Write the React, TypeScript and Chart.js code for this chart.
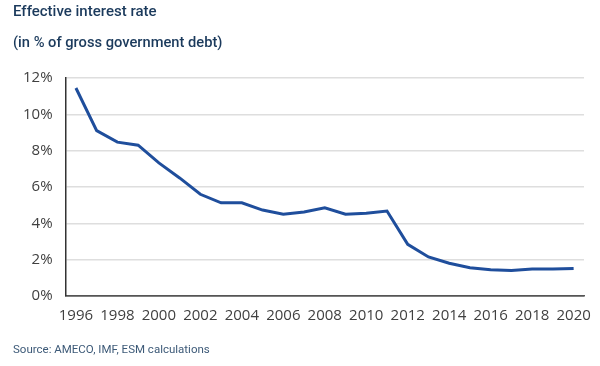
import React, { useEffect, useRef } from "react";
import { Chart, registerables } from "chart.js";

Chart.register(...registerables);

const years = [
  "1996", "1997", "1998", "1999", "2000", "2001", "2002", "2003", "2004", "2005",
  "2006", "2007", "2008", "2009", "2010", "2011", "2012", "2013", "2014", "2015",
  "2016", "2017", "2018", "2019", "2020",
];
const effectiveRate = [
  11.45, 9.1, 8.47, 8.3, 7.33, 6.5, 5.6, 5.13, 5.13, 4.73,
  4.5, 4.62, 4.86, 4.5, 4.55, 4.68, 2.84, 2.15, 1.8, 1.56,
  1.45, 1.4, 1.48, 1.48, 1.52,
];
const yTicks = [0, 2, 4, 6, 8, 10, 12];

export default function App() {
  const ref = useRef<HTMLCanvasElement | null>(null);

  useEffect(() => {
    document.body.style.margin = "0";
    if (!ref.current) return;
    const chart = new Chart(ref.current, {
      type: "line",
      data: {
        labels: years,
        datasets: [
          {
            data: effectiveRate,
            borderColor: "#1f4e9c",
            borderWidth: 3,
            pointRadius: 0,
            tension: 0,
            fill: false,
          },
        ],
      },
      options: {
        animation: false,
        responsive: false,
        maintainAspectRatio: false,
        layout: { padding: { top: 78, bottom: 38, left: 10, right: 16 } },
        plugins: { legend: { display: false }, tooltip: { enabled: false } },
        scales: {
          x: {
            offset: true,
            grid: { display: false },
            border: { display: true, color: "#555555", width: 1.5 },
            ticks: {
              autoSkip: false,
              maxRotation: 0,
              padding: 3,
              color: "#404040",
              font: { family: "Open Sans", size: 15 },
              callback: (_v: any, i: number) => (i % 2 === 0 ? years[i] : ""),
            },
          },
          y: {
            min: 0,
            max: 12,
            afterBuildTicks: (axis: any) => {
              axis.ticks = yTicks.map((v) => ({ value: v }));
            },
            grid: {
              color: (ctx: any) => (ctx.tick && ctx.tick.value === 0 ? "#555555" : "#dedede"),
              lineWidth: 1.5,
              drawTicks: false,
            },
            border: { display: true, color: "#333333", width: 1.5 },
            ticks: {
              padding: 13,
              color: "#404040",
              font: { family: "Open Sans", size: 15 },
              callback: (v: any) => v + "%",
            },
          },
        },
      },
    });
    return () => chart.destroy();
  }, []);

  return (
    <div style={{ position: "relative", width: 600, height: 366, background: "#ffffff" }}>
      <canvas ref={ref} width={600} height={366} style={{ position: "absolute", left: 0, top: 0 }} />
      <div
        style={{
          position: "absolute",
          left: 13,
          top: 2,
          fontFamily: "Roboto",
          fontWeight: 500,
          fontSize: 15,
          color: "#1b3a5c",
        }}
      >
        Effective interest rate
      </div>
      <div
        style={{
          position: "absolute",
          left: 13,
          top: 33,
          fontFamily: "Roboto",
          fontWeight: 500,
          fontSize: 14.7,
          color: "#1b3a5c",
        }}
      >
        (in % of gross government debt)
      </div>
      <div
        style={{
          position: "absolute",
          left: 13,
          top: 342,
          fontFamily: "Roboto",
          fontSize: 11.5,
          color: "#3d5a78",
        }}
      >
        Source: AMECO, IMF, ESM calculations
      </div>
    </div>
  );
}
